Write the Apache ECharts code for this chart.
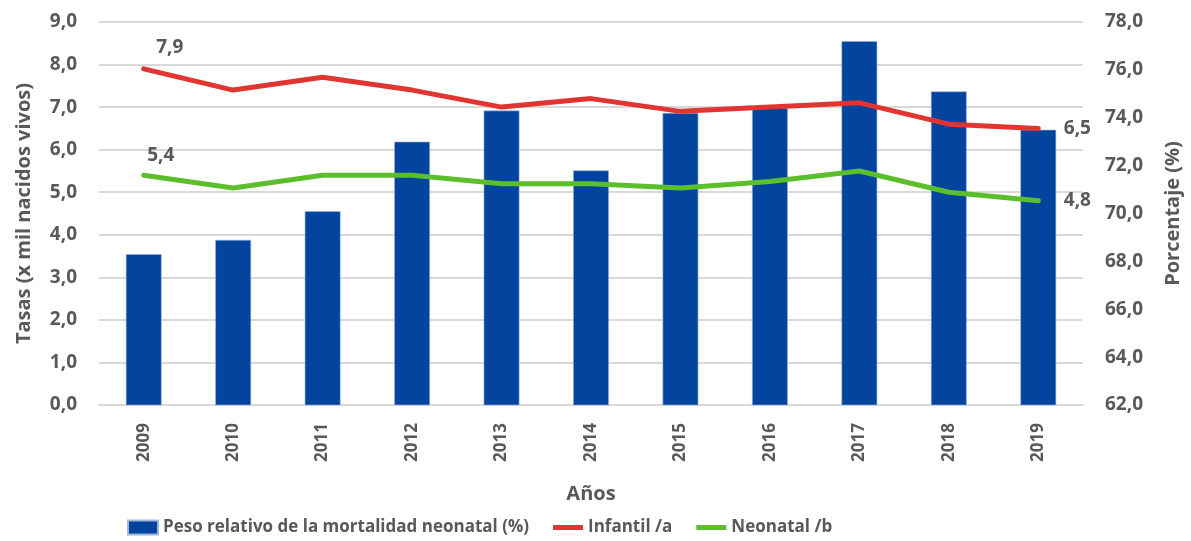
<!DOCTYPE html>
<html>
<head>
<meta charset="utf-8">
<script src="https://cdn.jsdelivr.net/npm/echarts@6/dist/echarts.min.js"></script>
<style>
  html, body { margin: 0; padding: 0; background: #fff; }
  #chart { width: 1191px; height: 541px; }
</style>
</head>
<body>
<div id="chart"></div>
<script>
const years = ['2009', '2010', '2011', '2012', '2013', '2014', '2015', '2016', '2017', '2018', '2019']
// peso relativo de la mortalidad neonatal (%), eje derecho
const pesoRelativo = [68.3, 68.9, 70.1, 73.0, 74.3, 71.8, 74.2, 74.4, 77.2, 75.1, 73.5]
// tasas x mil nacidos vivos, eje izquierdo
const infantil = [7.9, 7.4, 7.7, 7.4, 7.0, 7.2, 6.9, 7.0, 7.1, 6.6, 6.5]
const neonatal = [5.4, 5.1, 5.4, 5.4, 5.2, 5.2, 5.1, 5.25, 5.5, 5.0, 4.8]

const grey = '#595959'
const font = "'Open Sans', 'Noto Sans', sans-serif"
const fmt = v => (Math.round(v * 10) / 10).toFixed(1).replace('.', ',')
const lineIcon = 'path://M0,0 L30,0 L30,5 L0,5 Z'

function endLabels(data, firstOffset, lastOffset) {
  const last = data.length - 1
  return data.map((v, i) => {
    if (i === 0) {
      return { value: v, label: { show: true, position: 'top', offset: firstOffset } }
    }
    if (i === last) {
      return { value: v, label: { show: true, position: 'right', offset: lastOffset } }
    }
    return v
  })
}

const chart = echarts.init(document.getElementById('chart'), null, { renderer: 'canvas' })
chart.setOption({
  animation: false,
  textStyle: { fontFamily: font },
  grid: { left: 99, right: 103, top: 22, bottom: 136 },
  legend: {
    left: 122,
    bottom: 0,
    itemWidth: 30,
    itemHeight: 14,
    itemGap: 24,
    textStyle: { fontSize: 17, fontWeight: 'bold', color: grey },
    data: [
      { name: 'Peso relativo de la mortalidad neonatal (%)', icon: 'rect' },
      { name: 'Infantil /a', icon: lineIcon },
      { name: 'Neonatal /b', icon: lineIcon },
    ],
  },
  xAxis: {
    type: 'category',
    data: years,
    name: 'Años',
    nameLocation: 'middle',
    nameGap: 79,
    nameTextStyle: { fontSize: 20, fontWeight: 'bold', color: grey },
    axisLine: { lineStyle: { color: '#d9d9d9', width: 2 } },
    axisTick: { show: false },
    axisLabel: { rotate: 90, margin: 18, fontSize: 17, fontWeight: 'bold', color: grey },
  },
  yAxis: [
    {
      type: 'value',
      min: 0,
      max: 9,
      interval: 1,
      name: 'Tasas (x mil nacidos vivos)',
      nameLocation: 'middle',
      nameGap: 65,
      nameTextStyle: { fontSize: 20, fontWeight: 'bold', color: grey },
      axisLabel: { fontSize: 19, fontWeight: 'bold', color: grey, margin: 22, formatter: fmt },
      splitLine: { lineStyle: { color: '#d9d9d9', width: 2 } },
    },
    {
      type: 'value',
      min: 62,
      max: 78,
      interval: 2,
      name: 'Porcentaje (%)',
      nameLocation: 'middle',
      nameGap: 80,
      nameTextStyle: { fontSize: 20, fontWeight: 'bold', color: grey },
      axisLabel: { fontSize: 19, fontWeight: 'bold', color: grey, margin: 22, formatter: fmt },
      splitLine: { show: false },
    },
  ],
  series: [
    {
      name: 'Peso relativo de la mortalidad neonatal (%)',
      type: 'bar',
      yAxisIndex: 1,
      data: pesoRelativo,
      barWidth: '40%',
      itemStyle: { color: '#03449E', borderColor: '#9fb6dc', borderWidth: 0.6 },
    },
    {
      name: 'Infantil /a',
      type: 'line',
      yAxisIndex: 0,
      data: endLabels(infantil, [26, -6], [20, 0]),
      symbol: 'circle',
      symbolSize: 1,
      lineStyle: { color: '#E03530', width: 5, cap: 'round', join: 'round' },
      itemStyle: { color: '#E03530' },
      label: { fontSize: 19, fontWeight: 'bold', color: grey, formatter: p => fmt(p.value) },
    },
    {
      name: 'Neonatal /b',
      type: 'line',
      yAxisIndex: 0,
      data: endLabels(neonatal, [17, -5], [20, 0]),
      symbol: 'circle',
      symbolSize: 1,
      lineStyle: { color: '#5BBF2C', width: 5, cap: 'round', join: 'round' },
      itemStyle: { color: '#5BBF2C' },
      label: { fontSize: 19, fontWeight: 'bold', color: grey, formatter: p => fmt(p.value) },
    },
  ],
})
</script>
</body>
</html>
